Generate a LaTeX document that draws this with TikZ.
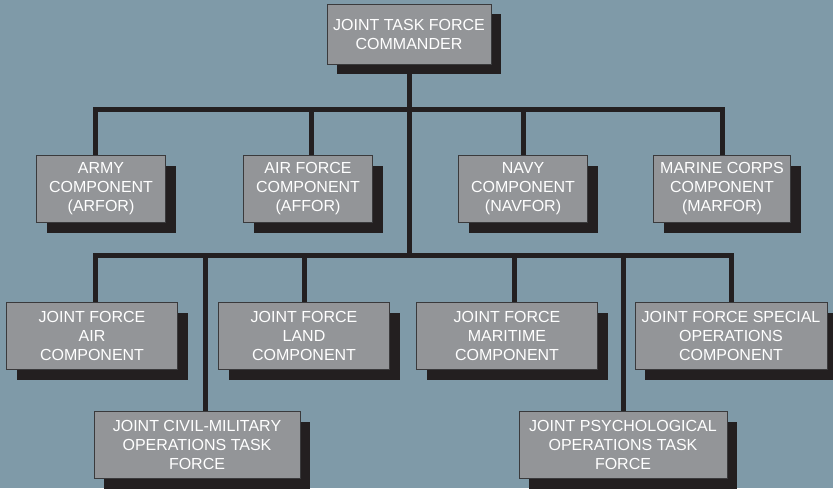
\documentclass[tikz,border=0pt]{standalone}
\usepackage{fontspec}
\setmainfont{Liberation Sans}
\usetikzlibrary{shadows,backgrounds}
\definecolor{bgblue}{HTML}{7F9AA8}
\definecolor{boxgray}{HTML}{939598}
\definecolor{inkblack}{HTML}{231F20}
\definecolor{edgegray}{HTML}{3A3A3C}

\begin{document}
\begin{tikzpicture}[x=1pt, y=-1pt,
    unit/.style={rectangle, draw=edgegray, line width=0.8pt, fill=boxgray,
      text=white, align=center, inner sep=0pt, minimum height=67pt,
      font=\fontsize{16}{19}\selectfont,
      drop shadow={shadow xshift=10pt, shadow yshift=-10pt,
        fill=inkblack, opacity=1}},
    link/.style={draw=inkblack, line width=5pt}]
    \useasboundingbox (0,0) rectangle (833,488);
    \clip (0,0) rectangle (833,488);
    % commander
    \node [unit, minimum width=164pt, minimum height=60pt] (jtf) at (409,34) {JOINT TASK FORCE\\COMMANDER};
    % service components
    \node [unit, minimum width=129pt] (arfor)  at (101,189) {ARMY\\COMPONENT\\(ARFOR)};
    \node [unit, minimum width=129pt] (affor)  at (308,189) {AIR FORCE\\COMPONENT\\(AFFOR)};
    \node [unit, minimum width=129pt] (navfor) at (523,189) {NAVY\\COMPONENT\\(NAVFOR)};
    \node [unit, minimum width=137pt] (marfor) at (722,189) {MARINE CORPS\\COMPONENT\\(MARFOR)};
    % functional components
    \node [unit, minimum width=171pt] (jfacc)  at (92,336)  {JOINT FORCE\\AIR\\COMPONENT};
    \node [unit, minimum width=171pt] (jflcc)  at (304,336) {JOINT FORCE\\LAND\\COMPONENT};
    \node [unit, minimum width=181pt] (jfmcc)  at (507,336) {JOINT FORCE\\MARITIME\\COMPONENT};
    \node [unit, minimum width=192pt] (jfsocc) at (731,336) {JOINT FORCE SPECIAL\\OPERATIONS\\COMPONENT};
    % task forces
    \node [unit, minimum width=206pt] (jcmotf) at (197,445) {JOINT CIVIL-MILITARY\\OPERATIONS TASK\\FORCE};
    \node [unit, minimum width=208pt] (jpotf)  at (623,445) {JOINT PSYCHOLOGICAL\\OPERATIONS TASK\\FORCE};

    \coordinate (bar1) at (409,109);
    \coordinate (bar2) at (409,255);

    \begin{scope}[on background layer]
      \fill [bgblue] (0,0) rectangle (833,488);
      \draw [link] (jtf) -- (bar2);
      \draw [link] (bar1) -| ([xshift=-6pt]arfor.north);
      \draw [link] (bar1) -| ([xshift=3pt]affor.north);
      \draw [link] (bar1) -| (navfor.north);
      \draw [link] (bar1) -| (marfor.north);
      \draw [link] (bar2) -| ([xshift=3pt]jfacc.north);
      \draw [link] (bar2) -| (jflcc.north);
      \draw [link] (bar2) -| ([xshift=7pt]jfmcc.north);
      \draw [link] (bar2) -| (jfsocc.north);
      \draw [link] (bar2) -| ([xshift=8pt]jcmotf.north);
      \draw [link] (bar2) -| (jpotf.north);
    \end{scope}
  \end{tikzpicture}
\end{document}
